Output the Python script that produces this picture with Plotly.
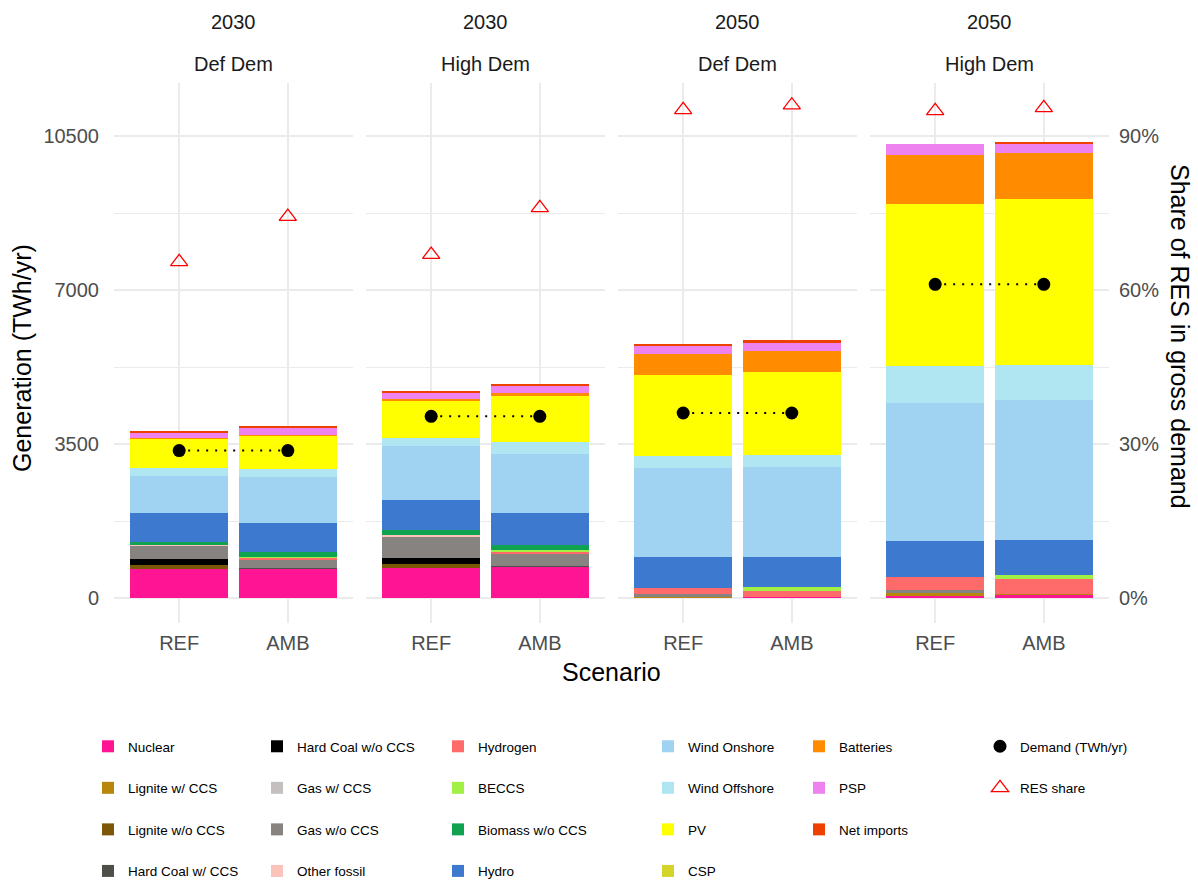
import plotly.graph_objects as go

WIDTH = 1198
HEIGHT = 887

years = ["2030", "2030", "2050", "2050"]
demand_cases = ["Def Dem", "High Dem", "Def Dem", "High Dem"]
scenarios = ["REF", "AMB"]

# generation in TWh/yr, order: (2030 Def) REF, AMB, (2030 High) REF, AMB, (2050 Def) REF, AMB, (2050 High) REF, AMB
nuclear = [667, 659, 682, 705, 10, 23, 61, 68]
lignite_ccs = [0, 0, 0, 0, 20, 0, 45, 20]
lignite = [91, 0, 98, 0, 0, 0, 0, 0]
hard_coal_ccs = [0, 20, 0, 23, 0, 0, 0, 0]
hard_coal = [121, 0, 136, 0, 0, 0, 0, 0]
gas_ccs = [0, 0, 0, 0, 0, 0, 0, 0]
gas = [303, 205, 485, 273, 60, 0, 76, 0]
other_fossil = [25, 0, 30, 0, 0, 0, 0, 0]
hydrogen = [0, 35, 0, 61, 129, 140, 295, 341]
beccs = [0, 15, 0, 20, 0, 76, 0, 91]
biomass = [76, 110, 106, 129, 0, 0, 0, 0]
hydro = [659, 667, 697, 712, 705, 690, 811, 803]
wind_onshore = [841, 1038, 1212, 1349, 2023, 2046, 3152, 3167]
wind_offshore = [167, 189, 182, 280, 280, 265, 841, 811]
pv = [674, 750, 864, 1038, 1841, 1894, 3682, 3765]
csp = [0, 0, 0, 0, 0, 0, 0, 0]
batteries = [10, 10, 23, 68, 477, 477, 1099, 1046]
psp = [121, 182, 152, 182, 197, 174, 258, 220]
net_imports = [38, 23, 30, 30, 30, 68, 0, 23]

demand = [3350, 3350, 4130, 4130, 4205, 4205, 7130, 7130]
res_share = [0.655, 0.743, 0.669, 0.760, 0.951, 0.960, 0.949, 0.955]

techs = [
    ("Nuclear", nuclear, "#FF1493", "legend"),
    ("Lignite w/ CCS", lignite_ccs, "#B8860B", "legend"),
    ("Lignite w/o CCS", lignite, "#7B5707", "legend"),
    ("Hard Coal w/ CCS", hard_coal_ccs, "#4F4F4A", "legend"),
    ("Hard Coal w/o CCS", hard_coal, "#000000", "legend2"),
    ("Gas w/ CCS", gas_ccs, "#C4C0BF", "legend2"),
    ("Gas w/o CCS", gas, "#878381", "legend2"),
    ("Other fossil", other_fossil, "#FBC3BA", "legend2"),
    ("Hydrogen", hydrogen, "#FF6A6A", "legend3"),
    ("BECCS", beccs, "#A2F045", "legend3"),
    ("Biomass w/o CCS", biomass, "#10A34F", "legend3"),
    ("Hydro", hydro, "#3D7ACF", "legend3"),
    ("Wind Onshore", wind_onshore, "#A0D3F1", "legend4"),
    ("Wind Offshore", wind_offshore, "#B0E5F2", "legend4"),
    ("PV", pv, "#FFFF00", "legend4"),
    ("CSP", csp, "#D4D42A", "legend4"),
    ("Batteries", batteries, "#FF8C00", "legend5"),
    ("PSP", psp, "#EE82EE", "legend5"),
    ("Net imports", net_imports, "#EE4000", "legend5"),
]

# secondary axis: 90% <-> 10500 TWh
Y_RANGE = [-557, 11705]
SEC_SCALE = 10500 / 0.9
PANEL_LEFT = [114, 366, 618, 870]
PANEL_W = 239
PANEL_TOP, PANEL_BOTTOM = 83, 622.5
FONT = "Liberation Sans, Arial, sans-serif"
GRID = "#EBEBEB"


def fx(p):
    return p / WIDTH


def fy(p):
    return 1 - p / HEIGHT


fig = go.Figure()

for i in range(4):
    n = "" if i == 0 else str(i + 1)
    sl = slice(2 * i, 2 * i + 2)
    for name, vals, color, leg in techs:
        fig.add_trace(go.Bar(name=name, x=scenarios, y=vals[sl], xaxis=f"x{n}", yaxis=f"y{n}",
                             marker=dict(color=color, line=dict(width=0)), width=0.9,
                             legendgroup=name, showlegend=(i == 0), legend=leg))
    fig.add_trace(go.Scatter(x=scenarios, y=demand[sl], xaxis=f"x{n}", yaxis=f"y{n}", mode="lines",
                             line=dict(color="black", width=2, dash="2px,7px"), showlegend=False,
                             hoverinfo="skip"))
    fig.add_trace(go.Scatter(name="Demand (TWh/yr)", x=scenarios, y=demand[sl], xaxis=f"x{n}", yaxis=f"y{n}",
                             mode="markers", marker=dict(color="black", size=13),
                             legendgroup="demand", showlegend=(i == 0), legend="legend6"))
    fig.add_trace(go.Scatter(name="RES share", x=scenarios, y=res_share[sl], xaxis=f"x{n}", yaxis=f"y{i + 5}",
                             mode="markers", marker=dict(symbol="triangle-up-open", color="#FF0000", size=15,
                                                         line=dict(width=1.3)),
                             legendgroup="res", showlegend=(i == 0), legend="legend6"))

layout = dict(
    width=WIDTH, height=HEIGHT, barmode="stack", bargap=0.1,
    margin=dict(l=0, r=0, t=0, b=0, autoexpand=False),
    plot_bgcolor="white", paper_bgcolor="white",
    font=dict(family=FONT, color="#4D4D4D", size=20),
)

for i in range(4):
    n = "" if i == 0 else str(i + 1)
    dom = [fx(PANEL_LEFT[i]), fx(PANEL_LEFT[i] + PANEL_W)]
    layout[f"xaxis{n}"] = dict(
        domain=dom, anchor=f"y{n}", type="category", range=[-0.6, 1.6],
        showgrid=True, gridcolor=GRID, gridwidth=1.5, zeroline=False, showline=False,
        ticks="outside", ticklen=2, tickcolor="rgba(0,0,0,0)",
        tickfont=dict(size=20, color="#4D4D4D"),
    )
    layout[f"yaxis{n}"] = dict(
        domain=[fy(PANEL_BOTTOM), fy(PANEL_TOP)], anchor=f"x{n}", range=Y_RANGE,
        tickvals=[0, 3500, 7000, 10500], tickformat="d", showticklabels=(i == 0),
        showgrid=True, gridcolor=GRID, gridwidth=1.5, zeroline=False, showline=False,
        minor=dict(showgrid=True, gridcolor=GRID, gridwidth=1.2, tickvals=[1750, 5250, 8750]),
        ticks="outside", ticklen=10, tickcolor="rgba(0,0,0,0)",
        tickfont=dict(size=20, color="#4D4D4D"),
    )
    layout[f"yaxis{i + 5}"] = dict(
        overlaying=f"y{n}", anchor=f"x{n}", side="right",
        range=[Y_RANGE[0] / SEC_SCALE, Y_RANGE[1] / SEC_SCALE],
        visible=(i == 3), showgrid=False, zeroline=False, showline=False,
        tickvals=[0, 0.3, 0.6, 0.9], tickformat=".0%",
        ticks="outside", ticklen=5, tickcolor="rgba(0,0,0,0)",
        tickfont=dict(size=20, color="#4D4D4D"),
    )

# legends, one per column
legend_text_x = [128, 297, 478, 688, 839, 1020]
for j, lx in enumerate(legend_text_x):
    key = "legend" if j == 0 else f"legend{j + 1}"
    layout[key] = dict(
        x=fx(lx - 40), y=fy(731), xanchor="left", yanchor="top",
        orientation="v", tracegroupgap=21, bgcolor="rgba(0,0,0,0)",
        font=dict(family=FONT, size=13.5, color="black"),
    )


def label(text, x, y, size=20, color="#1A1A1A", angle=0):
    return dict(text=text, x=fx(x), y=fy(y), xref="paper", yref="paper", xanchor="center",
                yanchor="middle", textangle=angle, showarrow=False, font=dict(size=size, color=color))


annotations = []
for i in range(4):
    cx = PANEL_LEFT[i] + PANEL_W / 2
    annotations.append(label(years[i], cx, 22))
    annotations.append(label(demand_cases[i], cx, 64))
annotations.append(label("Scenario", 611, 672, 25, "black"))
annotations.append(label("Generation (TWh/yr)", 22, 358, 25, "black", -90))
annotations.append(label("Share of RES in gross demand", 1180, 336, 25, "black", 90))
layout["annotations"] = annotations

fig.update_layout(**layout)
fig.write_html("out.html", config={"displayModeBar": False},
               post_script="document.body.style.margin = '0';")
